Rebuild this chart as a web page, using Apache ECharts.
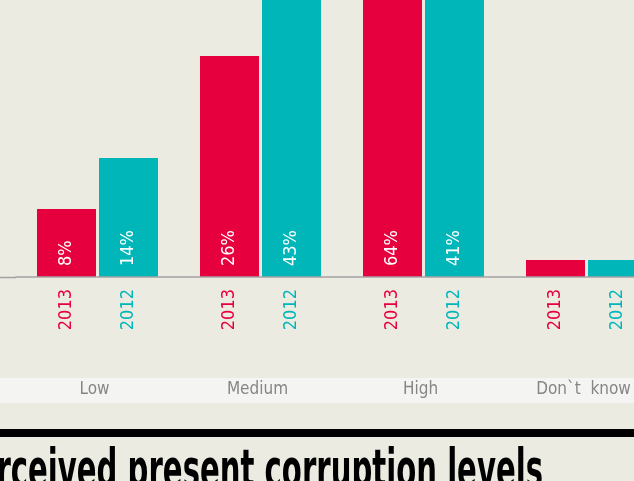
<!DOCTYPE html>
<html>
<head>
<meta charset="utf-8">
<script src="https://cdn.jsdelivr.net/npm/echarts@6/dist/echarts.min.js"></script>
<style>
  html, body { margin: 0; padding: 0; background: #ECEBE1; }
  #chart { width: 634px; height: 481px; }
</style>
</head>
<body>
<div id="chart"></div>
<script>
// corruption levels, percent of answers
var categories = ['Low', 'Medium', 'High', 'Don`t  know'];
var years = ['2013', '2012'];
var values2013 = [8, 26, 64, 2];
var values2012 = [14, 43, 41, 2];

var RED = '#E6003D';
var TEAL = '#00B6B9';
var FONT = '"DejaVu Sans Condensed", "DejaVu Sans", sans-serif';

var chart = echarts.init(document.getElementById('chart'));

// percent label inside the bar, reading upwards
function pctLabel() {
    return {
        show: true,
        position: 'insideBottom',
        distance: 11,
        rotate: 90,
        align: 'left',
        verticalAlign: 'middle',
        color: '#fff',
        fontFamily: FONT,
        fontSize: 18,
        formatter: function (p) { return p.value >= 5 ? p.value + '%' : ''; }
    };
}
// year label under the baseline
function yearLabel(year, color) {
    return {
        show: true,
        position: 'bottom',
        distance: 12,
        rotate: 90,
        align: 'right',
        verticalAlign: 'middle',
        color: color,
        fontFamily: FONT,
        fontSize: 18,
        formatter: year
    };
}

chart.setOption({
    animation: false,
    backgroundColor: '#ECEBE1',
    grid: {
        left: 16,
        right: -34,
        top: -318,
        bottom: 204,
        outerBoundsMode: 'none'
    },
    xAxis: [{
        type: 'category',
        data: categories,
        z: 5,
        axisTick: { show: false },
        axisLine: { lineStyle: { color: '#A3A3A3', width: 1.5 } },
        axisLabel: {
            margin: 113,
            verticalAlign: 'middle',
            padding: [0, 6, 0, 0],
            color: '#868686',
            fontFamily: FONT,
            fontSize: 17
        }
    }, {
        type: 'category',
        data: categories,
        show: false
    }],
    yAxis: {
        type: 'value',
        min: 0,
        max: 70,
        show: false
    },
    series: [{
        name: years[0],
        type: 'bar',
        barWidth: 59,
        barGap: '5.1%',
        itemStyle: { color: RED },
        label: pctLabel(),
        data: values2013
    }, {
        name: years[1],
        type: 'bar',
        barWidth: 59,
        barGap: '5.1%',
        itemStyle: { color: TEAL },
        label: pctLabel(),
        data: values2012
    }, {
        // invisible copies that carry the year labels
        type: 'bar',
        xAxisIndex: 1,
        barWidth: 59,
        barGap: '5.1%',
        silent: true,
        itemStyle: { color: 'rgba(0,0,0,0)' },
        label: yearLabel(years[0], RED),
        data: values2013
    }, {
        type: 'bar',
        xAxisIndex: 1,
        barWidth: 59,
        barGap: '5.1%',
        silent: true,
        itemStyle: { color: 'rgba(0,0,0,0)' },
        label: yearLabel(years[1], TEAL),
        data: values2012
    }],
    graphic: [
        { type: 'rect', z: -1, shape: { x: 0, y: 378, width: 634, height: 25 }, style: { fill: '#F4F4F2' } },
        { type: 'line', shape: { x1: 0, y1: 277.5, x2: 16, y2: 277.5 }, style: { stroke: '#A3A3A3', lineWidth: 1.5 } },
        { type: 'rect', shape: { x: 0, y: 429, width: 634, height: 8 }, style: { fill: '#000' } },
        {
            type: 'text',
            x: 543,
            y: 446,
            scaleX: 0.6,
            style: {
                text: 'Perceived present corruption levels',
                fill: '#000',
                font: 'bold 54px ' + FONT,
                textAlign: 'right',
                textVerticalAlign: 'top'
            }
        }
    ]
});
</script>
</body>
</html>
